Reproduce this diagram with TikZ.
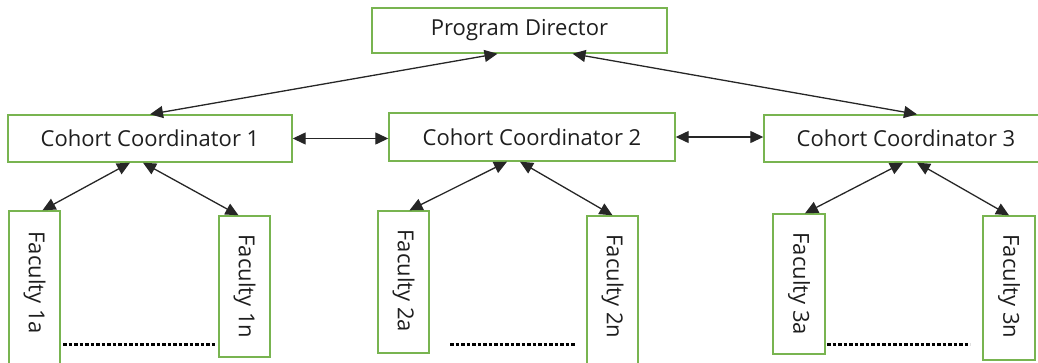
\documentclass[tikz,border=0pt]{standalone}
\usepackage{fontspec}
\setmainfont{Open Sans}
\usetikzlibrary{arrows.meta,calc}
\definecolor{boxgreen}{RGB}{120,180,80}
\definecolor{txt}{RGB}{30,30,30}
\tikzset{
  box/.style={draw=boxgreen, line width=1.4pt, fill=white, inner sep=0pt, text=txt, font=\fontsize{22}{26}\selectfont},
  facbox/.style={box},
  factext/.style={rotate=-90, anchor=west, inner sep=0pt, text=txt, font=\fontsize{22}{26}\selectfont},
  link/.style={draw=black!85, line width=1.3pt, {Triangle[length=13pt,width=12pt]}-{Triangle[length=13pt,width=12pt]}},
  dotline/.style={draw=black, line width=3pt, dash pattern=on 3.5pt off 2pt}
}
\begin{document}
\begin{tikzpicture}[x=1pt,y=-1pt]
\useasboundingbox (0,0) rectangle (1038,362);
% main boxes
\node[box, minimum width=295pt, minimum height=45pt] (pd) at (519.5,30.5) {Program Director};
\node[box, minimum width=284pt, minimum height=47pt] (cc1) at (150,138.5) {Cohort Coordinator 1};
\node[box, minimum width=286pt, minimum height=48pt] (cc2) at (532,137) {Cohort Coordinator 2};
\node[box, minimum width=284pt, minimum height=47pt] (cc3) at (906,138.5) {Cohort Coordinator 3};
% faculty boxes
\node[facbox, minimum width=51pt, minimum height=159pt] (f1a) at (34.5,290.5) {};
\node[facbox, minimum width=51pt, minimum height=141pt] (f1n) at (244.5,286.5) {};
\node[facbox, minimum width=51pt, minimum height=142pt] (f2a) at (403.5,282) {};
\node[facbox, minimum width=51pt, minimum height=154pt] (f2n) at (612.5,293) {};
\node[facbox, minimum width=52pt, minimum height=140pt] (f3a) at (799,284) {};
\node[facbox, minimum width=52pt, minimum height=144pt] (f3n) at (1009,288) {};
\node[factext] (t1a) at ([yshift=-21pt]f1a.north) {Faculty 1a};
\node[factext] (t1n) at ([yshift=-19pt]f1n.north) {Faculty 1n};
\node[factext] (t2a) at ([yshift=-19pt]f2a.north) {Faculty 2a};
\node[factext] (t2n) at ([yshift=-19pt]f2n.north) {Faculty 2n};
\node[factext] (t3a) at ([yshift=-19pt]f3a.north) {Faculty 3a};
\node[factext] (t3n) at ([yshift=-19pt]f3n.north) {Faculty 3n};
% arrows PD <-> CC
\draw[link] ([xshift=-22pt]pd.south) -- (cc1.north);
\draw[link] ([xshift=53pt]pd.south) -- ([xshift=11pt]cc3.north);
% horizontal
\draw[link] (cc1.east) -- (cc1.east -| cc2.west);
\draw[link] (cc2.east) -- (cc2.east -| cc3.west);
% cc to faculty
\draw[link] ([xshift=-20pt]cc1.south) -- ([xshift=8pt]f1a.north);
\draw[link] ([xshift=-7pt]cc1.south) -- ([xshift=-6pt]f1n.north);
\draw[link] ([xshift=-25pt]cc2.south) -- ([xshift=6pt]f2a.north);
\draw[link] ([xshift=-12pt]cc2.south) -- (f2n.north);
\draw[link] ([xshift=-3pt]cc3.south) -- ([xshift=6pt]f3a.north);
\draw[link] ([xshift=11pt]cc3.south) -- (f3n.north);
% dotted
\coordinate (d1s) at (63,344);
\coordinate (d1e) at (215,344);
\coordinate (d2s) at (450,344);
\coordinate (d2e) at (575,344);
\coordinate (d3s) at (827,344);
\coordinate (d3e) at (970,344);
\draw[dotline] (d1s) -- (d1e);
\draw[dotline] (d2s) -- (d2e);
\draw[dotline] (d3s) -- (d3e);
\end{tikzpicture}
\end{document}
